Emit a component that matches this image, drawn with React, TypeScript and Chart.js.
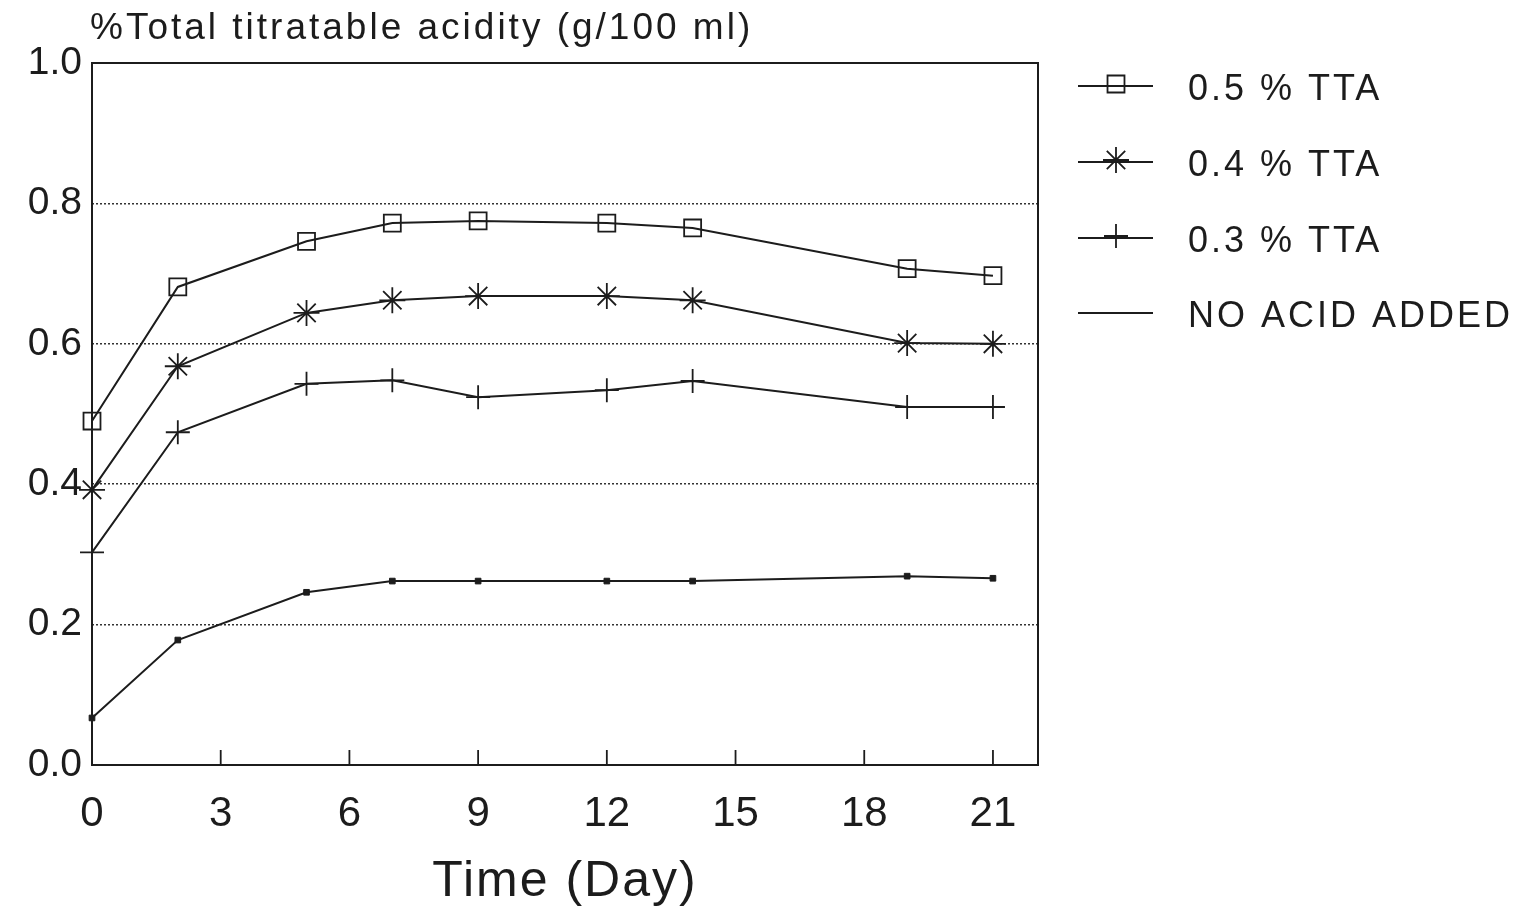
import React, { useEffect, useRef } from "react";
import { Chart, registerables } from "chart.js";
import { drawPoint } from "chart.js/helpers";

Chart.register(...registerables);

const days = [0, 2, 5, 7, 9, 12, 14, 19, 21];
const tta05 = [0.49, 0.681, 0.746, 0.772, 0.775, 0.772, 0.765, 0.707, 0.697];
const tta04 = [0.392, 0.568, 0.644, 0.662, 0.668, 0.668, 0.662, 0.601, 0.6];
const tta03 = [0.303, 0.474, 0.543, 0.548, 0.524, 0.534, 0.547, 0.51, 0.51];
const noAcid = [0.067, 0.178, 0.246, 0.262, 0.262, 0.262, 0.262, 0.269, 0.266];

const seriesLabels = ["0.5 % TTA", "0.4 % TTA", "0.3 % TTA", "NO ACID ADDED"];
const xTicks = [0, 3, 6, 9, 12, 15, 18, 21];
const yTitle = "%Total titratable acidity (g/100 ml)";
const xTitle = "Time (Day)";

const FONT = "'Liberation Sans', Arial, sans-serif";
const INK = "#1c1c1c";

const pointStyles: any[] = [
  { pointStyle: "rect", radius: 12, fill: "rgba(0,0,0,0)", border: 1.8 },
  { pointStyle: "star", radius: 13, fill: "rgba(0,0,0,0)", border: 1.8 },
  { pointStyle: "cross", radius: 12, fill: "rgba(0,0,0,0)", border: 1.8 },
  { pointStyle: "rect", radius: 4, fill: INK, border: 1 },
];

const frame = {
  id: "frame",
  afterDraw(chart: any) {
    const { ctx, chartArea: a, scales } = chart;
    ctx.save();
    // box
    ctx.strokeStyle = INK;
    ctx.lineWidth = 2;
    ctx.strokeRect(a.left, a.top, a.right - a.left, a.bottom - a.top);
    // inside tick marks on x
    ctx.lineWidth = 1.8;
    xTicks.forEach((v) => {
      if (v === 0) return;
      const px = scales.x.getPixelForValue(v);
      ctx.beginPath();
      ctx.moveTo(px, a.bottom);
      ctx.lineTo(px, a.bottom - 15);
      ctx.stroke();
    });
    // titles
    ctx.fillStyle = INK;
    ctx.textBaseline = "middle";
    ctx.textAlign = "left";
    (ctx as any).letterSpacing = "3px";
    ctx.font = `37px ${FONT}`;
    ctx.fillText(yTitle, 90, 29);
    ctx.textAlign = "center";
    ctx.font = `50px ${FONT}`;
    (ctx as any).letterSpacing = "2px";
    ctx.fillText(xTitle, 565, 882);
    // legend
    const rows = [86, 162, 238, 313];
    rows.forEach((y, i) => {
      ctx.strokeStyle = INK;
      ctx.lineWidth = 2;
      ctx.beginPath();
      ctx.moveTo(1078, y);
      ctx.lineTo(1153, y);
      ctx.stroke();
      const ps = pointStyles[i];
      if (i < 3) {
        ctx.fillStyle = ps.fill;
        ctx.strokeStyle = INK;
        ctx.lineWidth = ps.border;
        drawPoint(ctx, { pointStyle: ps.pointStyle, radius: ps.radius, rotation: 0, borderWidth: ps.border }, 1116, y - 2);
      }
      ctx.fillStyle = INK;
      ctx.textAlign = "left";
      ctx.font = `36px ${FONT}`;
      (ctx as any).letterSpacing = "3px";
      ctx.fillText(seriesLabels[i], 1188, y + 4);
    });
    ctx.restore();
  },
};

export default function App() {
  const ref = useRef<HTMLCanvasElement>(null);
  useEffect(() => {
    const prevMargin = document.body.style.margin;
    document.body.style.margin = "0";
    const all = [tta05, tta04, tta03, noAcid];
    const chart = new Chart(ref.current!, {
      type: "line",
      data: {
        datasets: all.map((vals, i) => ({
          label: seriesLabels[i],
          data: days.map((d, j) => ({ x: d, y: vals[j] })),
          borderColor: INK,
          borderWidth: 2,
          pointStyle: pointStyles[i].pointStyle,
          pointRadius: pointStyles[i].radius,
          pointBackgroundColor: pointStyles[i].fill,
          pointBorderColor: INK,
          pointBorderWidth: pointStyles[i].border,
          tension: 0,
          clip: false as any,
        })),
      },
      options: {
        animation: false,
        responsive: false,
        devicePixelRatio: 1,
        layout: { padding: { left: 0, top: 63, right: 484, bottom: 0 } },
        plugins: { legend: { display: false }, tooltip: { enabled: false } },
        scales: {
          x: {
            type: "linear",
            min: 0,
            max: 22.05,
            afterFit: (s: any) => { s.height = 151; },
            grid: { display: false, drawTicks: false },
            border: { display: false },
            ticks: {
              stepSize: 3,
              includeBounds: false,
              padding: 24,
              color: INK,
              font: { family: FONT, size: 42 },
              callback: (v: any) => (xTicks.includes(Number(v)) ? String(v) : ""),
              maxRotation: 0,
              autoSkip: false,
            },
          },
          y: {
            min: 0,
            max: 1,
            afterFit: (s: any) => { s.width = 92; },
            border: { display: false, dash: [2, 2] },
            grid: {
              drawTicks: false,
              color: (c: any) => (c.tick && (c.tick.value === 0 || c.tick.value === 1) ? "rgba(0,0,0,0)" : "#333"),
              lineWidth: 1.5,
            } as any,
            ticks: {
              stepSize: 0.2,
              padding: 10,
              color: INK,
              font: { family: FONT, size: 39 },
              callback: (v: any) => Number(v).toFixed(1),
            },
          },
        },
      },
      plugins: [frame],
    });
    return () => {
      chart.destroy();
      document.body.style.margin = prevMargin;
    };
  }, []);
  return (
    <div style={{ position: "absolute", left: 0, top: 0, width: 1522, height: 916, background: "#fff" }}>
      <canvas ref={ref} width={1522} height={916} />
    </div>
  );
}
